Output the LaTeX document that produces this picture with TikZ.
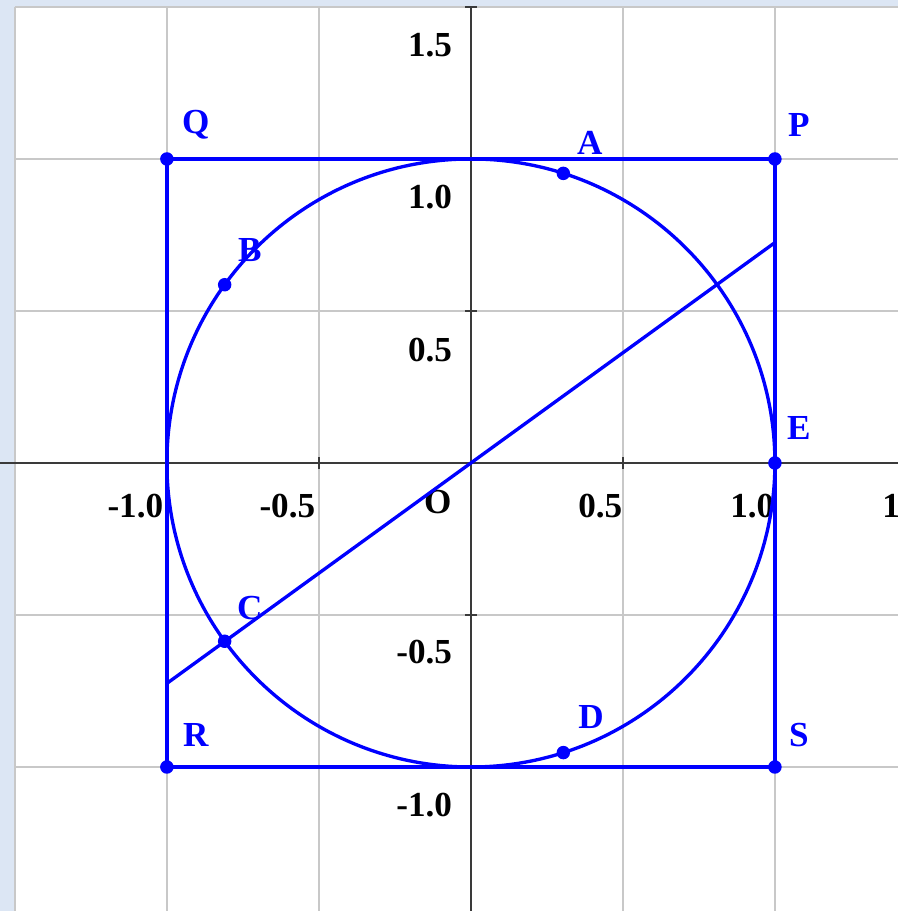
\documentclass[tikz,border=0pt]{standalone}
\usepackage{fontspec}
\setmainfont{Liberation Serif}
\usepackage{tikz}
\definecolor{geoblue}{HTML}{0000FF}
\definecolor{geogrid}{HTML}{C8C8C8}
\definecolor{geoaxis}{HTML}{3A3A3A}
\definecolor{geoframe}{HTML}{DCE6F4}

\begin{document}
\begin{tikzpicture}[
    x=3.04cm,y=3.04cm,
    font=\fontsize{10}{12}\selectfont\bfseries,
    gridline/.style={draw=geogrid,line width=0.6pt},
    axis/.style={draw=geoaxis,line width=0.7pt},
    sqline/.style={draw=geoblue,line width=1.2pt},
    curveline/.style={draw=geoblue,line width=0.95pt},
    pt/.style={circle,fill=geoblue,inner sep=0pt,minimum size=0.135cm},
    lbl/.style={text=geoblue,inner sep=0pt},
    num/.style={text=black,inner sep=0pt,anchor=east}
  ]
    \useasboundingbox[fill=geoframe] (-1.549,-1.4737) rectangle (1.4046,1.523);
    \clip (-1.549,-1.4737) rectangle (1.4046,1.523);
    \fill[white] (-1.5,-1.4737) rectangle (1.4046,1.5);

    % grid and axes
    \draw[gridline] (-1.5,-1.5) grid[step=0.5] (1.5,1.5);
    \draw[axis] (-1.549,0) -- (1.4046,0);
    \draw[axis] (0,-1.4737) -- (0,1.5);
    \foreach \t in {-1,-0.5,0.5,1} \draw[axis] (\t,-0.02) -- (\t,0.02);
    \foreach \t in {-1,-0.5,0.5,1,1.5} \draw[axis] (-0.02,\t) -- (0.02,\t);

    \node[num] (y15) at (-0.06,1.375) {1.5};
    \node[num] (y10) at (-0.06,0.875) {1.0};
    \node[num] (y05) at (-0.06,0.372) {0.5};
    \node[num] (ym05) at (-0.06,-0.622) {-0.5};
    \node[num] (ym10) at (-0.06,-1.125) {-1.0};
    \node[num] (xm10) at (-1.01,-0.141) {-1.0};
    \node[num] (xm05) at (-0.51,-0.141) {-0.5};
    \node[num] (x05) at (0.50,-0.141) {0.5};
    \node[num] (x10) at (1.00,-0.141) {1.0};
    \node[num] (x15) at (1.50,-0.141) {1.5};
    \node[inner sep=0pt] (olbl) at (-0.109,-0.13) {O};

    % points
    \coordinate (O) at (0,0);
    \coordinate (P) at (1,1);
    \coordinate (Q) at (-1,1);
    \coordinate (R) at (-1,-1);
    \coordinate (S) at (1,-1);
    \coordinate (E) at (1,0);
    \coordinate (A) at (72.3:1);
    \coordinate (B) at (144.1:1);
    \coordinate (C) at (215.9:1);
    \coordinate (D) at (-72.3:1);
    \coordinate (lineL) at (-1,-0.725);
    \coordinate (lineR) at (1,0.725);

    \draw[sqline] (P) -- (Q) -- (R) -- (S) -- cycle;
    \draw[curveline] (O) circle[radius=1];
    \draw[curveline] (lineL) -- (lineR);

    \foreach \p in {P,Q,R,S,E,A,B,C,D} \node[pt] at (\p) {};

    \node[lbl] (Plbl) at (1.079,1.112) {P};
    \node[lbl] (Qlbl) at (-0.905,1.112) {Q};
    \node[lbl] (Rlbl) at (-0.905,-0.895) {R};
    \node[lbl] (Slbl) at (1.079,-0.895) {S};
    \node[lbl] (Elbl) at (1.079,0.115) {E};
    \node[lbl] (Albl) at (0.391,1.053) {A};
    \node[lbl] (Blbl) at (-0.727,0.70) {B};
    \node[lbl] (Clbl) at (-0.727,-0.477) {C};
    \node[lbl] (Dlbl) at (0.395,-0.836) {D};
  \end{tikzpicture}
\end{document}
